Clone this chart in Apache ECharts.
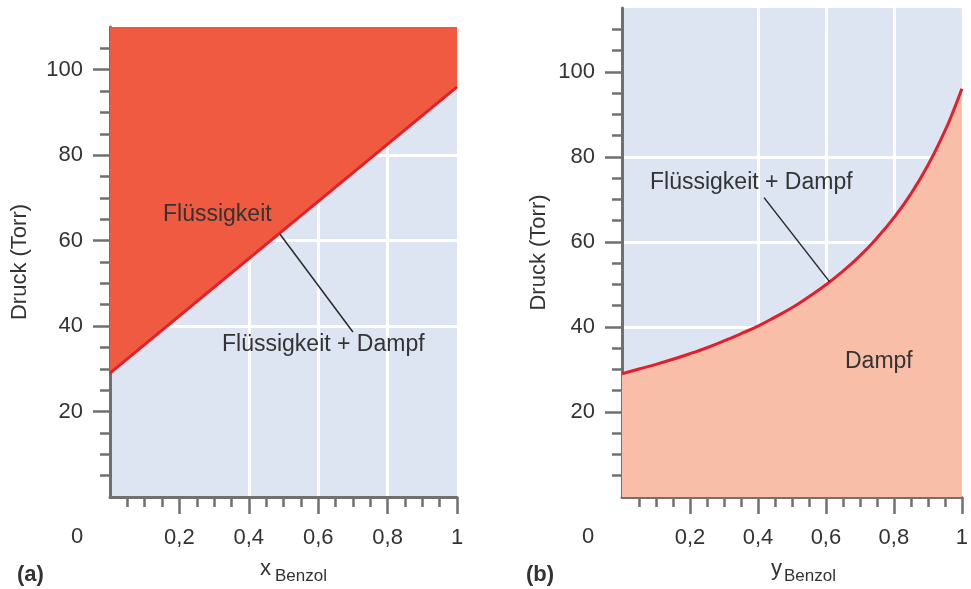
<!DOCTYPE html>
<html>
<head>
<meta charset="utf-8">
<script src="https://cdn.jsdelivr.net/npm/echarts@6/dist/echarts.min.js"></script>
<style>
  html, body { margin: 0; padding: 0; background: #fff; }
  #chart { width: 971px; height: 589px; }
</style>
</head>
<body>
<div id="chart"></div>
<script>
// (a) Druck über Flüssigkeitszusammensetzung: Gerade zwischen Toluol und Benzol
var xBenzol = [0, 1];
var pFluessig = [29, 96];

// (b) Druck über Dampfzusammensetzung
var yBenzol = [0, 0.05, 0.1, 0.15, 0.2, 0.25, 0.3, 0.35, 0.4, 0.45, 0.5,
  0.55, 0.6, 0.65, 0.7, 0.75, 0.8, 0.85, 0.9, 0.95, 0.975, 1];
var pDampf = [29.0, 30.1, 31.2, 32.4, 33.7, 35.1, 36.7, 38.4, 40.2, 42.3, 44.5,
  47.1, 49.9, 53.1, 56.7, 60.9, 65.7, 71.3, 78.0, 86.1, 90.8, 96.0];

// Achsenbeschriftung
var xTicks = [0.2, 0.4, 0.6, 0.8, 1];
var yTicks = [20, 40, 60, 80, 100];
var yMinorA = [5, 10, 15, 25, 30, 35, 45, 50, 55, 65, 70, 75, 85, 90, 95, 105];
var yMinorB = yMinorA.concat([110]);

// Hinweislinien (Datenkoordinaten)
var leaderA = [[0.49, 61.5], [0.70, 38.6]];
var leaderB = [[0.418, 70.4], [0.611, 50.6]];

var chart = echarts.init(document.getElementById('chart'));

var axisColor = '#707070';
var textColor = '#333';
var font = 'Liberation Sans, Arial, sans-serif';

function xAxisDef(grid) {
  return {
    type: 'value', gridIndex: grid, min: 0, max: 1, interval: 0.2,
    axisLine: { show: true, onZero: false, lineStyle: { color: axisColor, width: 3 } },
    axisTick: { show: true, customValues: xTicks, length: 17, lineStyle: { color: axisColor, width: 2.5 } },
    minorTick: { show: true, splitNumber: 4, length: 10, lineStyle: { color: axisColor, width: 2.5 } },
    axisLabel: {
      customValues: xTicks, margin: 30, color: textColor, fontSize: 22, fontFamily: font,
      formatter: function (v) { return String(v).replace('.', ','); }
    },
    splitLine: { show: true, showMinLine: false, showMaxLine: false, lineStyle: { color: '#fff', width: 3 } }
  };
}

function yAxisMain(grid, max, gap) {
  return {
    type: 'value', gridIndex: grid, position: 'left', min: 0, max: max, interval: 20,
    name: 'Druck (Torr)', nameLocation: 'middle', nameGap: gap,
    nameTextStyle: { color: textColor, fontSize: 22, fontFamily: font },
    axisLine: { show: true, onZero: false, lineStyle: { color: axisColor, width: 3 } },
    axisTick: { show: true, customValues: yTicks, length: 17, lineStyle: { color: axisColor, width: 2.5 } },
    axisLabel: { customValues: yTicks, margin: 27, color: textColor, fontSize: 22, fontFamily: font },
    splitLine: { show: true, showMinLine: false, showMaxLine: false, lineStyle: { color: '#fff', width: 3 } }
  };
}

function yAxisMinor(grid, max, ticks) {
  return {
    type: 'value', gridIndex: grid, position: 'left', min: 0, max: max,
    axisLine: { show: false, onZero: false },
    axisTick: { show: true, customValues: ticks, length: 10, lineStyle: { color: axisColor, width: 2.5 } },
    axisLabel: { show: false },
    splitLine: { show: false }
  };
}

function pairs(xs, ys) {
  return xs.map(function (x, i) { return [x, ys[i]]; });
}

function leader(pts) {
  return {
    silent: true, symbol: 'none', label: { show: false },
    lineStyle: { color: '#2a2a2a', width: 1.5, type: 'solid' },
    data: [[{ coord: pts[0] }, { coord: pts[1] }]]
  };
}

function label(text, x, y, size, bold) {
  return {
    type: 'text', left: x, top: y - size / 2, z: 100,
    style: { text: text, fill: textColor, font: (bold ? 'bold ' : '') + size + 'px ' + font }
  };
}

var options = {
  animation: false,
  grid: [
    { left: 110, top: 27, width: 347, height: 470, show: true, backgroundColor: '#DDE5F2', borderWidth: 0 },
    { left: 622, top: 8, width: 347, height: 489, show: true, backgroundColor: '#DDE5F2', borderWidth: 0 }
  ],
  xAxis: [xAxisDef(0), xAxisDef(1)],
  yAxis: [
    yAxisMain(0, 110, 79),
    yAxisMinor(0, 110, yMinorA),
    yAxisMain(1, 115, 72),
    yAxisMinor(1, 115, yMinorB)
  ],
  series: [
    {
      type: 'line', xAxisIndex: 0, yAxisIndex: 0, showSymbol: false,
      data: pairs(xBenzol, pFluessig),
      lineStyle: { color: '#E3202A', width: 3 },
      areaStyle: { origin: 'end', color: '#F05A41', opacity: 1 },
      markLine: leader(leaderA)
    },
    {
      type: 'line', xAxisIndex: 1, yAxisIndex: 2, showSymbol: false, smooth: true,
      data: pairs(yBenzol, pDampf),
      lineStyle: { color: '#E3202A', width: 3 },
      areaStyle: { origin: 'start', color: '#F8BEA8', opacity: 1 },
      markLine: leader(leaderB)
    }
  ],
  graphic: [
    label('Flüssigkeit', 163, 215, 23),
    label('Flüssigkeit + Dampf', 222, 345, 23),
    label('Flüssigkeit + Dampf', 650, 183, 23),
    label('Dampf', 845, 362, 23),
    label('0', 71, 537, 22),
    label('0', 582, 537, 22),
    label('(a)', 17, 575, 22, true),
    label('(b)', 526, 575, 22, true),
    label('x', 260, 569, 22),
    label('Benzol', 275, 576, 17),
    label('y', 771, 569, 22),
    label('Benzol', 784, 576, 17)
  ]
};

chart.setOption(options);
window.addEventListener('resize', chart.resize);
</script>
</body>
</html>
